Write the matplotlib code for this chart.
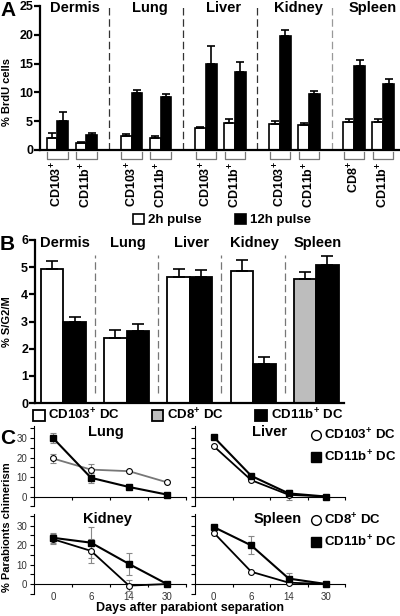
import matplotlib

matplotlib.use("Agg")
import matplotlib.pyplot as plt
import numpy as np
from matplotlib.lines import Line2D
from matplotlib.patches import Patch

plt.rcParams["font.family"] = ["Liberation Sans", "DejaVu Sans"]
plt.rcParams["font.weight"] = "bold"
plt.rcParams["mathtext.fontset"] = "custom"
plt.rcParams["mathtext.rm"] = "Liberation Sans:bold"
plt.rcParams["mathtext.it"] = "Liberation Sans:bold"
plt.rcParams["mathtext.bf"] = "Liberation Sans:bold"

# ---- data -------------------------------------------------------------
tissues = ["Dermis", "Lung", "Liver", "Kidney", "Spleen"]

# panel A: % BrdU cells, two subsets per tissue
a_cells = [["CD103", "CD11b"], ["CD103", "CD11b"], ["CD103", "CD11b"],
           ["CD103", "CD11b"], ["CD8", "CD11b"]]
a_2h = [[2.0, 1.25], [2.4, 2.15], [3.8, 4.75], [4.45, 4.35], [4.85, 4.85]]
a_2h_err = [[1.0, 0.15], [0.35, 0.35], [0.15, 0.6], [0.6, 0.4], [0.5, 0.5]]
a_12h = [[5.05, 2.65], [9.95, 9.2], [15.0, 13.5], [19.75, 9.65], [14.65, 11.4]]
a_12h_err = [[1.5, 0.35], [0.5, 0.45], [3.0, 1.7], [1.1, 0.6], [0.9, 0.85]]

# panel B: % S/G2/M
b_first = [4.95, 2.4, 4.65, 4.87, 4.57]  # CD103+ (CD8+ for spleen)
b_first_err = [0.27, 0.3, 0.3, 0.4, 0.25]
b_cd11b = [3.0, 2.65, 4.62, 1.42, 5.08]
b_cd11b_err = [0.18, 0.25, 0.27, 0.27, 0.32]

# panel C: % parabionts chimerism
days = ["0", "6", "14", "30"]
c_lung_cd103 = [19.5, 13.8, 13.0, 7.3]
c_lung_cd103_err = [2.5, 3.0, 0, 0]
c_lung_cd11b = [30.0, 9.6, 4.9, 1.0]
c_lung_cd11b_err = [2.5, 2.5, 0, 1.0]
c_liver_cd103 = [25.8, 8.4, 0.9, 0.0]
c_liver_cd103_err = [0, 0, 2.5, 0]
c_liver_cd11b = [30.5, 10.6, 1.6, 0.0]
c_liver_cd11b_err = [0, 0, 1.5, 0]
c_kidney_cd103 = [23.0, 17.0, -0.8, 0.0]
c_kidney_cd103_err = [2.5, 6.0, 2.8, 0]
c_kidney_cd11b = [23.7, 21.2, 10.3, 0.0]
c_kidney_cd11b_err = [2.7, 8.0, 5.5, 0]
c_spleen_cd8 = [26.3, 6.3, 0.7, 0.0]
c_spleen_cd8_err = [0, 0, 0, 0]
c_spleen_cd11b = [29.2, 19.8, 2.8, 0.0]
c_spleen_cd11b_err = [0, 4.6, 2.8, 0]

W, H = 400, 616
fig = plt.figure(figsize=(W / 100, H / 100), dpi=100)


def px_axes(x0, y0, x1, y1):
    return fig.add_axes([x0 / W, 1 - y1 / H, (x1 - x0) / W, (y1 - y0) / H])


def sup(name, rest=""):
    # superscript plus, kept in one mathtext run so it hugs the name
    return r"$\mathregular{" + name + r"^{+}" + rest + "}$"


def bar_spines(ax):
    for s in ("top", "right"):
        ax.spines[s].set_visible(False)
    for s in ("left", "bottom"):
        ax.spines[s].set_linewidth(1.6)
    ax.tick_params(axis="y", direction="out", length=4, width=1.6, labelsize=9, pad=1)
    ax.tick_params(axis="x", length=0, labelbottom=False)


# ---- panel A ----------------------------------------------------------
axA = px_axes(40, 6, 400, 150)
w = 0.37
pos = np.array([i * 2.56 + j for i in range(len(tissues)) for j in range(2)])
flat = lambda v: np.array(v).ravel()
err_kw = dict(ecolor="black", elinewidth=1.2, capsize=3, capthick=1.2)
axA.bar(pos - w / 2, flat(a_2h), w, color="white", edgecolor="black", lw=1.2,
        yerr=[np.zeros(pos.size), flat(a_2h_err)], error_kw=err_kw, label="2h pulse")
axA.bar(pos + w / 2, flat(a_12h), w, color="black", edgecolor="black", lw=1.2,
        yerr=[np.zeros(pos.size), flat(a_12h_err)], error_kw=err_kw, label="12h pulse")
axA.set_xlim(-0.6, 11.82)
axA.set_ylim(0, 25)
axA.set_yticks(range(0, 26, 5))
bar_spines(axA)

seps = np.arange(len(tissues) - 1) * 2.56 + 1.78
axA.vlines(seps, 0, 25, colors=["#333", "#333", "#333", "#999"],
           linestyles=(0, (6, 3)), lw=0.9)
for i, name in enumerate(tissues):
    axA.text(i * 2.56 + 0.62, 24.6, name, ha="center", va="center", fontsize=10.5)
for p, cell in zip(pos, flat(a_cells)):
    axA.plot([p - 0.35, p - 0.35, p + 0.35, p + 0.35], [-0.3, -1.6, -1.6, -0.3],
             color="#777", lw=0.9, clip_on=False)
    axA.text(p, -2.0, sup(cell), rotation=90, ha="center", va="top", fontsize=9)
axA.legend(loc="center", bbox_to_anchor=(222 / W, 1 - 220 / H),
           bbox_transform=fig.transFigure, ncol=2, frameon=False, fontsize=9.5,
           handlelength=0.8, handleheight=0.8, handletextpad=0.3,
           columnspacing=2.6, borderpad=0)
fig.text(0.0, 1 - 10 / H, "A", fontsize=15, ha="left", va="center")
fig.text(7 / W, 1 - 92 / H, "% BrdU cells", rotation=90, fontsize=8,
         ha="center", va="center")

# ---- panel B ----------------------------------------------------------
axB = px_axes(35, 240, 344, 403)
wb = 0.356
xb = np.arange(len(tissues))
first_colors = ["white"] * 4 + ["#bdbdbd"]
err_kwb = dict(ecolor="black", elinewidth=1.2, capsize=4.5, capthick=1.2)
axB.bar(xb - wb / 2, b_first, wb, color=first_colors, edgecolor="black", lw=1.3,
        yerr=[np.zeros(5), b_first_err], error_kw=err_kwb)
axB.bar(xb + wb / 2, b_cd11b, wb, color="black", edgecolor="black", lw=1.3,
        yerr=[np.zeros(5), b_cd11b_err], error_kw=err_kwb)
axB.set_xlim(-0.45, 4.44)
axB.set_ylim(0, 6)
axB.set_yticks(range(0, 7))
bar_spines(axB)
axB.vlines(xb[:-1] + 0.5, 0.35, 5.45, colors="#777", linestyles=(0, (6, 3)), lw=0.9)
for i, name in enumerate(tissues):
    axB.text(i + 0.02, 5.9, name, ha="center", va="center", fontsize=10.5)
b_handles = [Patch(facecolor="white", edgecolor="black", lw=1.3),
             Patch(facecolor="#bdbdbd", edgecolor="black", lw=1.3),
             Patch(facecolor="black", edgecolor="black", lw=1.3)]
axB.legend(b_handles, [sup("CD103", r"\ DC"), sup("CD8", r"\ DC"), sup("CD11b", r"\ DC")],
           loc="center", bbox_to_anchor=(188 / W, 1 - 415 / H),
           bbox_transform=fig.transFigure, ncol=3, frameon=False, fontsize=9.5,
           handlelength=0.9, handleheight=0.9, handletextpad=0.25,
           columnspacing=2.4, borderpad=0)
fig.text(0.0, 1 - 244 / H, "B", fontsize=15, ha="left", va="center")
fig.text(7 / W, 1 - 322 / H, "% S/G2/M", rotation=90, fontsize=8,
         ha="center", va="center")

# ---- panel C ----------------------------------------------------------
c_panels = [
    ("Lung", (34, 426.3, 186, 506.3), c_lung_cd103, c_lung_cd103_err,
     c_lung_cd11b, c_lung_cd11b_err, "#777", True, False, 0.47),
    ("Liver", (195, 426.3, 345, 506.3), c_liver_cd103, c_liver_cd103_err,
     c_liver_cd11b, c_liver_cd11b_err, "black", False, False, 0.5),
    ("Kidney", (34, 513.8, 186, 593.8), c_kidney_cd103, c_kidney_cd103_err,
     c_kidney_cd11b, c_kidney_cd11b_err, "black", True, True, 0.48),
    ("Spleen", (195, 513.8, 345, 593.8), c_spleen_cd8, c_spleen_cd8_err,
     c_spleen_cd11b, c_spleen_cd11b_err, "black", False, True, 0.55),
]
xc = np.arange(len(days))
for name, box, open_y, open_err, fill_y, fill_err, open_lc, ylab, xlab, tx in c_panels:
    ax = px_axes(*box)
    for yv, ev in ((open_y, open_err), (fill_y, fill_err)):
        yv, ev = np.array(yv), np.array(ev)
        m = ev > 0
        ax.errorbar(xc[m], yv[m], yerr=ev[m], fmt="none", ecolor="#888",
                    elinewidth=0.8, capsize=2, capthick=0.8, zorder=2)
    ax.plot(xc, open_y, color=open_lc, lw=1.3, marker="o", ms=4.2,
            mfc="white", mec="black", mew=0.8, zorder=3)
    ax.plot(xc, fill_y, color="black", lw=1.5, marker="s", ms=4.2,
            mfc="black", mec="black", zorder=4)
    ax.set_xlim(-0.5, 3.5)
    ax.set_ylim(-5, 36)
    for s in ("top", "right"):
        ax.spines[s].set_visible(False)
    ax.spines["bottom"].set_position(("data", 0))
    ax.spines["left"].set_linewidth(0.8)
    ax.spines["bottom"].set_linewidth(0.8)
    ax.set_yticks([0, 10, 20, 30])
    ax.set_yticks(range(-5, 36, 5), minor=True)
    ax.tick_params(axis="y", which="both", direction="out", length=3, width=0.8,
                   labelsize=7, labelleft=ylab, pad=2)
    for lbl in ax.get_yticklabels():
        lbl.set_fontweight("normal")
        lbl.set_color("#333")
    ax.set_xticks([0.5, 1.5, 2.5, 3.5])
    ax.set_xticklabels([])
    ax.set_xticks(xc, minor=True)
    ax.tick_params(axis="x", which="major", direction="out", length=2, width=0.8)
    ax.tick_params(axis="x", which="minor", length=0, pad=6, labelsize=7,
                   labelbottom=xlab)
    if xlab:
        ax.set_xticklabels(days, minor=True, fontweight="normal", color="#333")
    ax.text(tx, 0.93, name, transform=ax.transAxes, ha="center", va="center",
            fontsize=10.5)

c_top = [Line2D([], [], ls="none", marker="o", ms=7, mfc="white", mec="black", mew=1),
         Line2D([], [], ls="none", marker="s", ms=7, mfc="black", mec="black")]
for y0, first in ((427, sup("CD103", r"\ DC")), (512, sup("CD8", r"\ DC"))):
    fig.legend(c_top, [first, sup("CD11b", r"\ DC")], loc="upper left",
               bbox_to_anchor=(311 / W, 1 - y0 / H), frameon=False, fontsize=9.5,
               handlelength=0.7, handletextpad=0.3, borderpad=0, borderaxespad=0,
               labelspacing=0.55)
fig.text(0.0, 1 - 438 / H, "C", fontsize=15, ha="left", va="center")
fig.text(7 / W, 1 - 527 / H, "% Parabionts chimerism", rotation=90, fontsize=8,
         ha="center", va="center")
fig.text(190 / W, 1 - 608 / H, "Days after parabiont separation", fontsize=9,
         ha="center", va="center")

fig.savefig("out.png", dpi=100)
